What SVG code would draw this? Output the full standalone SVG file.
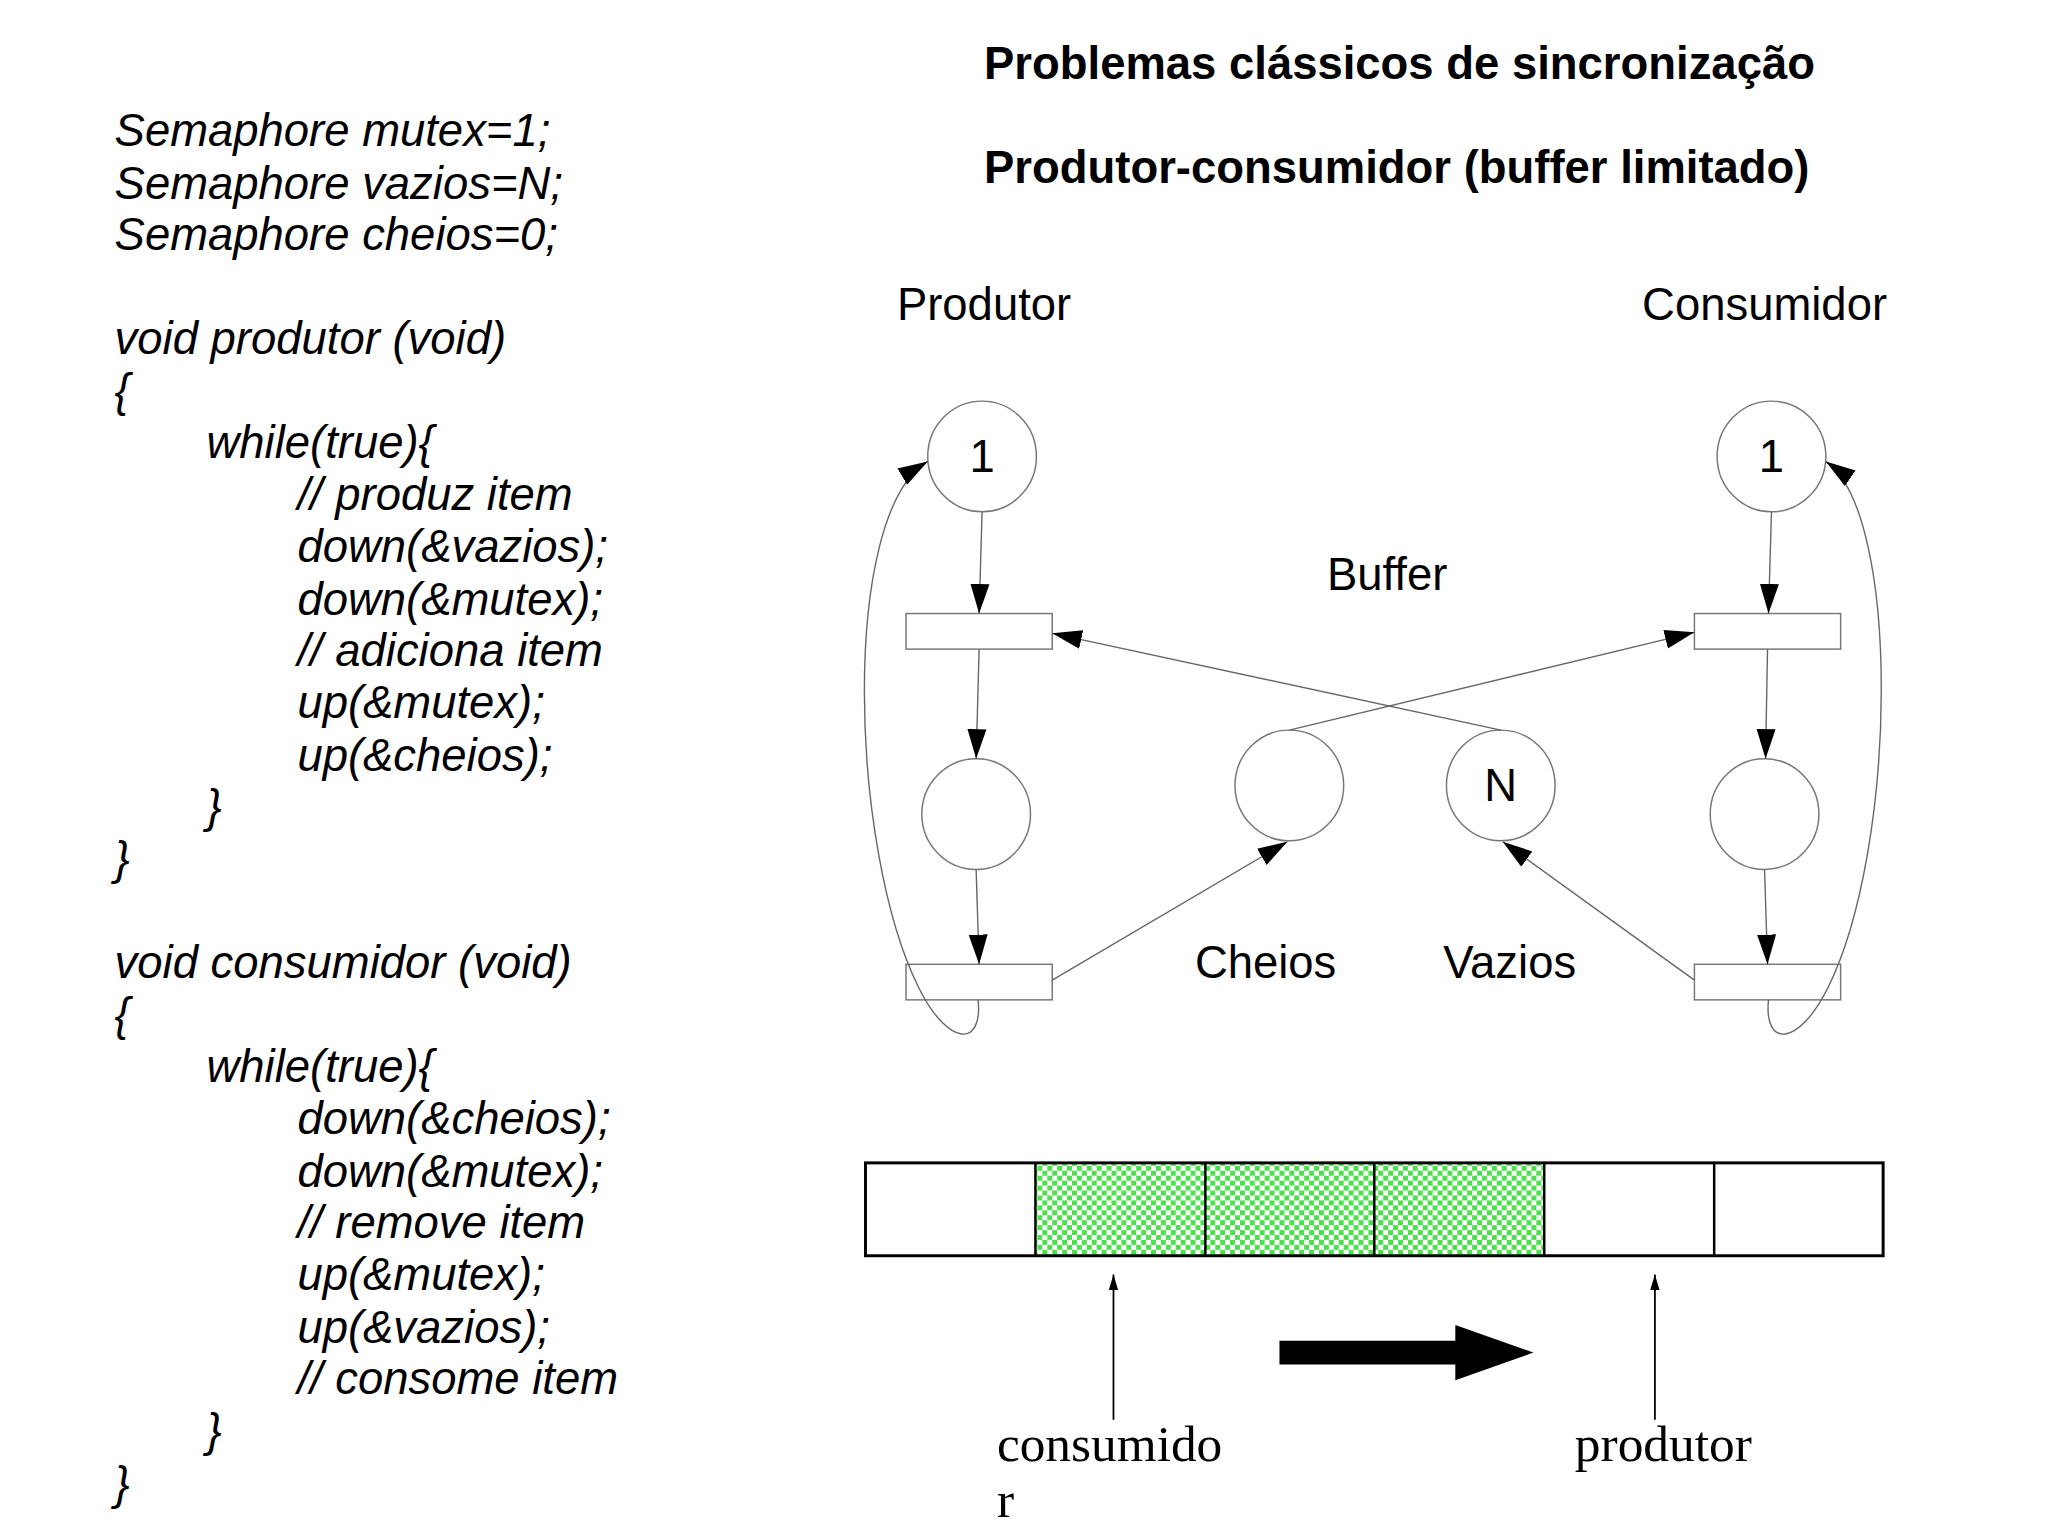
<svg xmlns="http://www.w3.org/2000/svg" width="2048" height="1535" viewBox="0 0 2048 1535">
<style>
.code{font-family:"Liberation Sans",Arial,sans-serif;font-style:italic;font-size:46px;fill:#000}
.t{font-family:"Liberation Sans",Arial,sans-serif;font-weight:bold;font-size:46px;fill:#000}
.lbl{font-family:"Liberation Sans",Arial,sans-serif;font-size:46px;fill:#000}
.ser{font-family:"Liberation Serif","Times New Roman",serif;font-size:52px;fill:#000}
.pl{fill:#fff;stroke:#777;stroke-width:1.5}
.ed{fill:none;stroke:#666;stroke-width:1.4}
</style>
<defs>
<marker id="ah" viewBox="0 0 10 10" refX="10" refY="5" markerWidth="30" markerHeight="30" markerUnits="userSpaceOnUse" orient="auto"><path d="M0,1.8 L10,5 L0,8.2 Z" fill="#000"/></marker>
<marker id="ahs" viewBox="0 0 10 10" refX="10" refY="5" markerWidth="16" markerHeight="16" markerUnits="userSpaceOnUse" orient="auto"><path d="M0,2 L10,5 L0,8 Z" fill="#000"/></marker>
<pattern id="chk" width="10" height="10" patternUnits="userSpaceOnUse"><rect width="10" height="10" fill="#fff"/><rect width="5" height="5" fill="#4de04d"/><rect x="5" y="5" width="5" height="5" fill="#4de04d"/></pattern>
</defs>
<rect width="2048" height="1535" fill="#fff"/>
<g transform="scale(0.988)">
<g id="titles">
<text class="t" x="996" y="80">Problemas clássicos de sincronização</text>
<text class="t" x="996" y="185">Produtor-consumidor (buffer limitado)</text>
</g>
<g id="code" class="code">
<text x="116" y="148">Semaphore mutex=1;</text>
<text x="116" y="201">Semaphore vazios=N;</text>
<text x="116" y="253">Semaphore cheios=0;</text>
<text x="116" y="358">void produtor (void)</text>
<text x="116" y="411">{</text>
<text x="209" y="464">while(true){</text>
<text x="301" y="516">// produz item</text>
<text x="301" y="569">down(&amp;vazios);</text>
<text x="301" y="622">down(&amp;mutex);</text>
<text x="301" y="674">// adiciona item</text>
<text x="301" y="727">up(&amp;mutex);</text>
<text x="301" y="780">up(&amp;cheios);</text>
<text x="209" y="832">}</text>
<text x="116" y="885">}</text>
<text x="116" y="990">void consumidor (void)</text>
<text x="116" y="1043">{</text>
<text x="209" y="1095">while(true){</text>
<text x="301" y="1148">down(&amp;cheios);</text>
<text x="301" y="1201">down(&amp;mutex);</text>
<text x="301" y="1253">// remove item</text>
<text x="301" y="1306">up(&amp;mutex);</text>
<text x="301" y="1359">up(&amp;vazios);</text>
<text x="301" y="1411">// consome item</text>
<text x="209" y="1464">}</text>
<text x="116" y="1517">}</text>
</g>
<g id="labels" class="lbl" text-anchor="middle">
<text x="996" y="324">Produtor</text>
<text x="1786" y="324">Consumidor</text>
<text x="1404" y="597">Buffer</text>
<text x="1281" y="990">Cheios</text>
<text x="1528" y="990">Vazios</text>
</g>
<g id="p_mutex_p"><ellipse class="pl" cx="994" cy="462" rx="55" ry="56"/><text class="lbl" x="994" y="478" text-anchor="middle">1</text></g>
<g id="p_mutex_c"><ellipse class="pl" cx="1793" cy="462" rx="55" ry="56"/><text class="lbl" x="1793" y="478" text-anchor="middle">1</text></g>
<g id="p_mid_p"><ellipse class="pl" cx="988" cy="824" rx="55" ry="56"/></g>
<g id="p_mid_c"><ellipse class="pl" cx="1786" cy="824" rx="55" ry="56"/></g>
<g id="p_cheios"><ellipse class="pl" cx="1305" cy="795" rx="55" ry="56"/></g>
<g id="p_vazios"><ellipse class="pl" cx="1519" cy="795" rx="55" ry="56"/><text class="lbl" x="1519" y="811" text-anchor="middle">N</text></g>
<g id="t_p1"><rect class="pl" x="917" y="621" width="148" height="36"/></g>
<g id="t_c1"><rect class="pl" x="1715" y="621" width="148" height="36"/></g>
<g id="t_p2"><rect class="pl" x="917" y="976" width="148" height="36"/></g>
<g id="t_c2"><rect class="pl" x="1715" y="976" width="148" height="36"/></g>
<g id="connectors" class="ed">
<path d="M994,518 L991,621" marker-end="url(#ah)"/>
<path d="M991,657 L988,768" marker-end="url(#ah)"/>
<path d="M988,880 L991,976" marker-end="url(#ah)"/>
<path d="M1793,518 L1790,621" marker-end="url(#ah)"/>
<path d="M1789,657 L1787,768" marker-end="url(#ah)"/>
<path d="M1786,880 L1789,976" marker-end="url(#ah)"/>
<path d="M1305,739 L1715,640" marker-end="url(#ah)"/>
<path d="M1519,739 L1065,641" marker-end="url(#ah)"/>
<path d="M1065,992 L1303,852" marker-end="url(#ah)"/>
<path d="M1715,992 L1521,852" marker-end="url(#ah)"/>
<path d="M990,1012 C995,1060 960,1060 930,1000 C860,860 850,520 939,467" marker-end="url(#ah)"/>
<path d="M1790,1012 C1785,1060 1820,1060 1850,1000 C1920,860 1925,520 1848,467" marker-end="url(#ah)"/>
</g>
<g id="buffer">
<rect x="1048" y="1177" width="515" height="94" fill="url(#chk)"/>
<rect x="876" y="1177" width="1030" height="94" fill="none" stroke="#000" stroke-width="3"/>
<path d="M1048,1177V1271M1220,1177V1271M1391,1177V1271M1563,1177V1271M1735,1177V1271" stroke="#000" stroke-width="2.5"/>
</g>
<g id="pointers" stroke="#000" stroke-width="1.8">
<path d="M1127,1437 V1290" marker-end="url(#ahs)"/>
<path d="M1675,1437 V1290" marker-end="url(#ahs)"/>
</g>
<g id="bigarrow"><path d="M1295,1357 H1473 V1341 L1552,1369 L1473,1397 V1381 H1295 Z" fill="#000"/></g>
<g id="ptrlabels" class="ser">
<text x="1009" y="1479">consumido</text>
<text x="1009" y="1535">r</text>
<text x="1594" y="1479">produtor</text>
</g>
</g>
</svg>
